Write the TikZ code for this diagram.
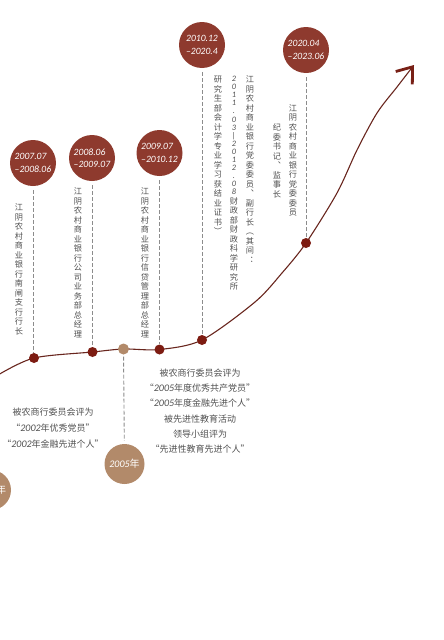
\documentclass[tikz,border=0pt]{standalone}
\usepackage{fontspec}
\setmainfont{Carlito}
\newfontfamily\cjk{Noto Sans CJK SC}
\newfontfamily\digf{Carlito}[Scale=1.12]
\usetikzlibrary{arrows.meta}
\definecolor{datered}{RGB}{142,58,46}
\definecolor{dotred}{RGB}{125,28,18}
\definecolor{tanc}{RGB}{178,138,106}
\definecolor{curvec}{RGB}{105,38,30}
\definecolor{arrowc}{RGB}{120,32,22}
\definecolor{dashc}{RGB}{140,140,140}
\definecolor{txtc}{RGB}{80,80,80}
\newcommand\dg[1]{{\digf\itshape #1}}
\newcommand\vd[1]{{\digf\itshape\fontsize{7.4}{8}\selectfont #1}}
\begin{document}
\begin{tikzpicture}[x=1pt,y=-1pt,
  datec/.style={circle, fill=datered, minimum size=46pt, inner sep=0pt, text=white, align=left, font={\digf\itshape\fontsize{8.6}{12.5}\selectfont}},
  yearc/.style={circle, fill=tanc, minimum size=40pt, inner sep=0pt, text=white, font={\digf\itshape\fontsize{9}{12}\selectfont}},
  dotn/.style={circle, fill=dotred, minimum size=10pt, inner sep=0pt},
  tandot/.style={circle, fill=tanc, minimum size=11pt, inner sep=0pt},
  dashl/.style={draw=dashc, line width=0.9pt, dash pattern=on 4pt off 2pt, shorten <=4pt},
  vtext/.style={anchor=north, align=center, inner sep=0pt, text=txtc, font={\cjk\fontsize{8.2}{9.5}\selectfont}},
  htext/.style={align=center, inner sep=0pt, text=txtc, font={\cjk\fontsize{9}{16}\selectfont}},
  curvel/.style={draw=curvec, line width=1.1pt}
]
\useasboundingbox (0,0) rectangle (444,640);
\clip (0,0) rectangle (444,640);

% curve points
\coordinate (s0) at (-2,375);
\coordinate (p1) at (34,358);
\coordinate (p2) at (92.5,352);
\coordinate (pt) at (123.5,349);
\coordinate (p3) at (159.5,349.5);
\coordinate (p4) at (202,340);
\coordinate (m1) at (255,302);
\coordinate (m2) at (282,273);
\coordinate (p5) at (306,243);
\coordinate (m3) at (337,193);
\coordinate (m4) at (357,150);
\coordinate (m5) at (377,113);
\coordinate (m6) at (397,87);
\coordinate (tip) at (414,65);

\draw[curvel, -{Straight Barb[length=14pt, width=21pt, line width=2.8pt, color=arrowc]}]
  plot[smooth, tension=0.5] coordinates {(s0) (p1) (p2) (pt) (p3) (p4) (m1) (m2) (p5) (m3) (m4) (m5) (m6) (tip)};

% date circles
\node[datec] (c1) at (33,163) {2007.07\\–2008.06};
\node[datec] (c2) at (92,158) {2008.06\\–2009.07};
\node[datec] (c3) at (159.5,153) {2009.07\\–2010.12};
\node[datec] (c4) at (202,45) {2010.12\\–2020.4};
\node[datec] (c5) at (306,50) {2020.04\\–2023.06};
\node[yearc] (ct) at (124.5,464) {2005{\cjk\fontsize{10}{12}\selectfont 年}};
\node[yearc] (cl) at (-9,490) {2002{\cjk\fontsize{10}{12}\selectfont 年}};

% dots
\node[dotn] (d1) at (p1) {};
\node[dotn] (d2) at (p2) {};
\node[tandot] (dt) at (pt) {};
\node[dotn] (d3) at (p3) {};
\node[dotn] (d4) at (p4) {};
\node[dotn] (d5) at (p5) {};

% dashed connectors
\draw[dashl] (c1) -- (c1 |- d1.north);
\draw[dashl] (c2) -- (c2 |- d2.north);
\draw[dashl] (c3) -- (c3 |- d3.north);
\draw[dashl] (c4) -- (c4 |- d4.north);
\draw[dashl] (c5) -- (c5 |- d5.north);
\draw[dashl, shorten <=2pt, shorten >=3pt] (dt) -- (ct);

% vertical texts
\node[vtext] (t1) at (19,204) {江\\阴\\农\\村\\商\\业\\银\\行\\南\\闸\\支\\行\\行\\长};
\node[vtext] (t2) at (78,188) {江\\阴\\农\\村\\商\\业\\银\\行\\公\\司\\业\\务\\部\\总\\经\\理};
\node[vtext] (t3) at (145,188) {江\\阴\\农\\村\\商\\业\\银\\行\\信\\贷\\管\\理\\部\\总\\经\\理};
\node[vtext] (t4a) at (250,76) {江\\阴\\农\\村\\商\\业\\银\\行\\党\\委\\委\\员\\︑\\副\\行\\长\\︵\\其\\间\\︓};
\node[vtext] (t4b) at (234,76) {\vd{2}\\[-1.4pt]\vd{0}\\[-1.4pt]\vd{1}\\[-1.4pt]\vd{1}\\[-1.4pt]\vd{.}\\[-1.4pt]\vd{0}\\[-1.4pt]\vd{3}\\[-1.4pt]\vd{|}\\[-1.4pt]\vd{2}\\[-1.4pt]\vd{0}\\[-1.4pt]\vd{1}\\[-1.4pt]\vd{2}\\[-1.4pt]\vd{.}\\[-1.4pt]\vd{0}\\[-1.4pt]\vd{8}\\财\\政\\部\\财\\政\\科\\学\\研\\究\\所};
\node[vtext] (t4c) at (218,76) {研\\究\\生\\部\\会\\计\\学\\专\\业\\学\\习\\获\\结\\业\\证\\书\\︶};
\node[vtext, anchor=center] (t5a) at (293,160.5) {江\\阴\\农\\村\\商\\业\\银\\行\\党\\委\\委\\员};
\node[vtext, anchor=center] (t5b) at (277,161) {纪\\委\\书\\记\\︑\\监\\事\\长};

% horizontal texts
\node[htext] (h1) at (53,428) {被农商行委员会评为\\“\dg{2002}年优秀党员”\\“\dg{2002}年金融先进个人”};
\node[htext, font={\cjk\fontsize{9}{15.3}\selectfont}] (h2) at (200,411) {被农商行委员会评为\\“\dg{2005}年度优秀共产党员”\\“\dg{2005}年度金融先进个人”\\被先进性教育活动\\领导小组评为\\“先进性教育先进个人”};
\end{tikzpicture}
\end{document}
